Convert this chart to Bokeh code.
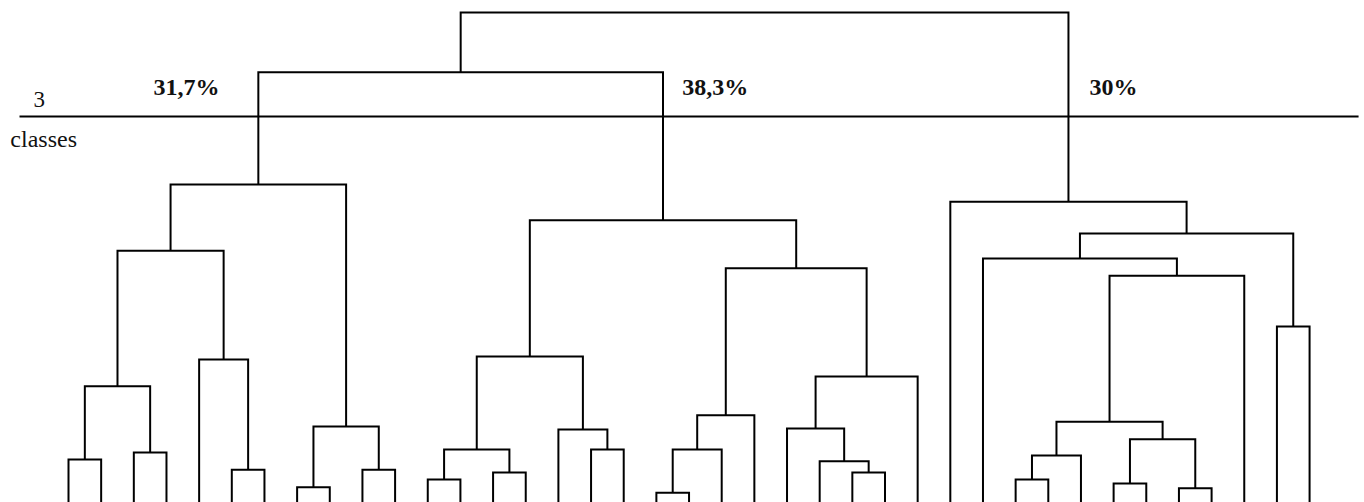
from bokeh.plotting import figure
from bokeh.models import Range1d
from bokeh.embed import file_html
from bokeh.resources import INLINE
from bokeh.core.properties import value

# ---------------- data ----------------
n_leaves = 39  # leaves 0..38 in display order

# merges: (name, left child, right child, merge height)
merge_names = ["A1a", "A1b", "A1", "A2b", "A2", "A", "B1", "B2", "B", "CL",
               "M1a1", "M1a2", "M1a", "M1b2", "M1b", "M1",
               "M2a1p", "M2a1", "M2a", "M2b1bp", "M2b1b", "M2b1", "M2b", "M2", "CM",
               "Xp", "X", "Yp1", "Yp2", "Y", "R1a2a", "R1a2", "R1a", "R1b", "R1", "CR",
               "L", "ROOT"]
merge_left = [0, 2, "A1a", 5, 4, "A1", 7, 9, "B1", "A",
              11, 13, "M1a1", 16, 15, "M1a",
              18, "M2a1p", "M2a1", 24, 23, 22, "M2b1", "M2a", "M1",
              29, "Xp", 32, 34, "Yp1", "X", "R1a2a", 28, 37, "R1a", 27,
              "CL", "L"]
merge_right = [1, 3, "A1b", 6, "A2b", "A2", 8, 10, "B2", "B",
               12, 14, "M1a2", 17, "M1b2", "M1b",
               19, 20, 21, 25, "M2b1bp", "M2b1b", 26, "M2b", "M2",
               30, 31, 33, 35, "Yp2", "Y", 36, "R1a2", 38, "R1b", "R1",
               "CM", "CR"]
merge_height = [8.8, 10.2, 23.7, 6.7, 29.2, 51.4, 3.1, 6.7, 15.5, 64.9,
                4.7, 6.1, 10.8, 10.8, 14.9, 29.8,
                2.0, 10.8, 17.8, 6.1, 8.4, 15.1, 25.7, 47.8, 57.6,
                4.7, 9.6, 3.9, 2.9, 12.9, 16.5, 46.3, 49.8, 35.9, 54.9, 61.4,
                87.8, 100.0]

cut_height = 78.8
cut_label_top = "3"
cut_label_bottom = "classes"
class_labels = ["31,7%", "38,3%", "30%"]

# ---------------- layout ----------------
px_per_leaf = 32.66
px_per_unit = 4.9
W, H = 1364, 502
x0 = -68 / px_per_leaf
y1 = 100 + 12 / px_per_unit

p = figure(width=W, height=H, output_backend="svg", toolbar_location=None,
           x_axis_type=None, y_axis_type=None, min_border=0,
           x_range=Range1d(x0, x0 + W / px_per_leaf),
           y_range=Range1d(y1 - H / px_per_unit, y1))
p.grid.visible = False
p.outline_line_color = None
p.background_fill_color = "white"
p.border_fill_color = "white"

pos = {}
hgt = {}
def node_xy(k):
    if isinstance(k, int):
        return float(k), 0.0
    return pos[k], hgt[k]

xs, ys = [], []
for name, l, r, h in zip(merge_names, merge_left, merge_right, merge_height):
    xl, hl = node_xy(l)
    xr, hr = node_xy(r)
    pos[name] = (xl + xr) / 2
    hgt[name] = h
    xs.append([xl, xl, xr, xr])
    ys.append([hl, h, h, hr])

p.multi_line(xs, ys, line_color="black", line_width=2, line_join="miter")

# cut line
p.line([-1.5, 39.5], [cut_height, cut_height], line_color="black", line_width=2)

font = value("Liberation Serif")
p.text(x=[-1.07], y=[cut_height + 3.4], text=[cut_label_top], text_font=font,
       text_font_size="23px", text_color="#111111", text_baseline="alphabetic")
p.text(x=[-1.78], y=[cut_height - 4.7], text=[cut_label_bottom], text_font=font,
       text_font_size="24px", text_color="#111111", text_baseline="alphabetic")

label_x = [2.60, 18.79, 31.26]
p.text(x=label_x, y=[cut_height + 6.0] * 3, text=class_labels, text_font=font,
       text_font_size="24px", text_font_style="bold", text_color="#111111",
       text_baseline="alphabetic")

open("out.html", "w").write(file_html(p, INLINE))
